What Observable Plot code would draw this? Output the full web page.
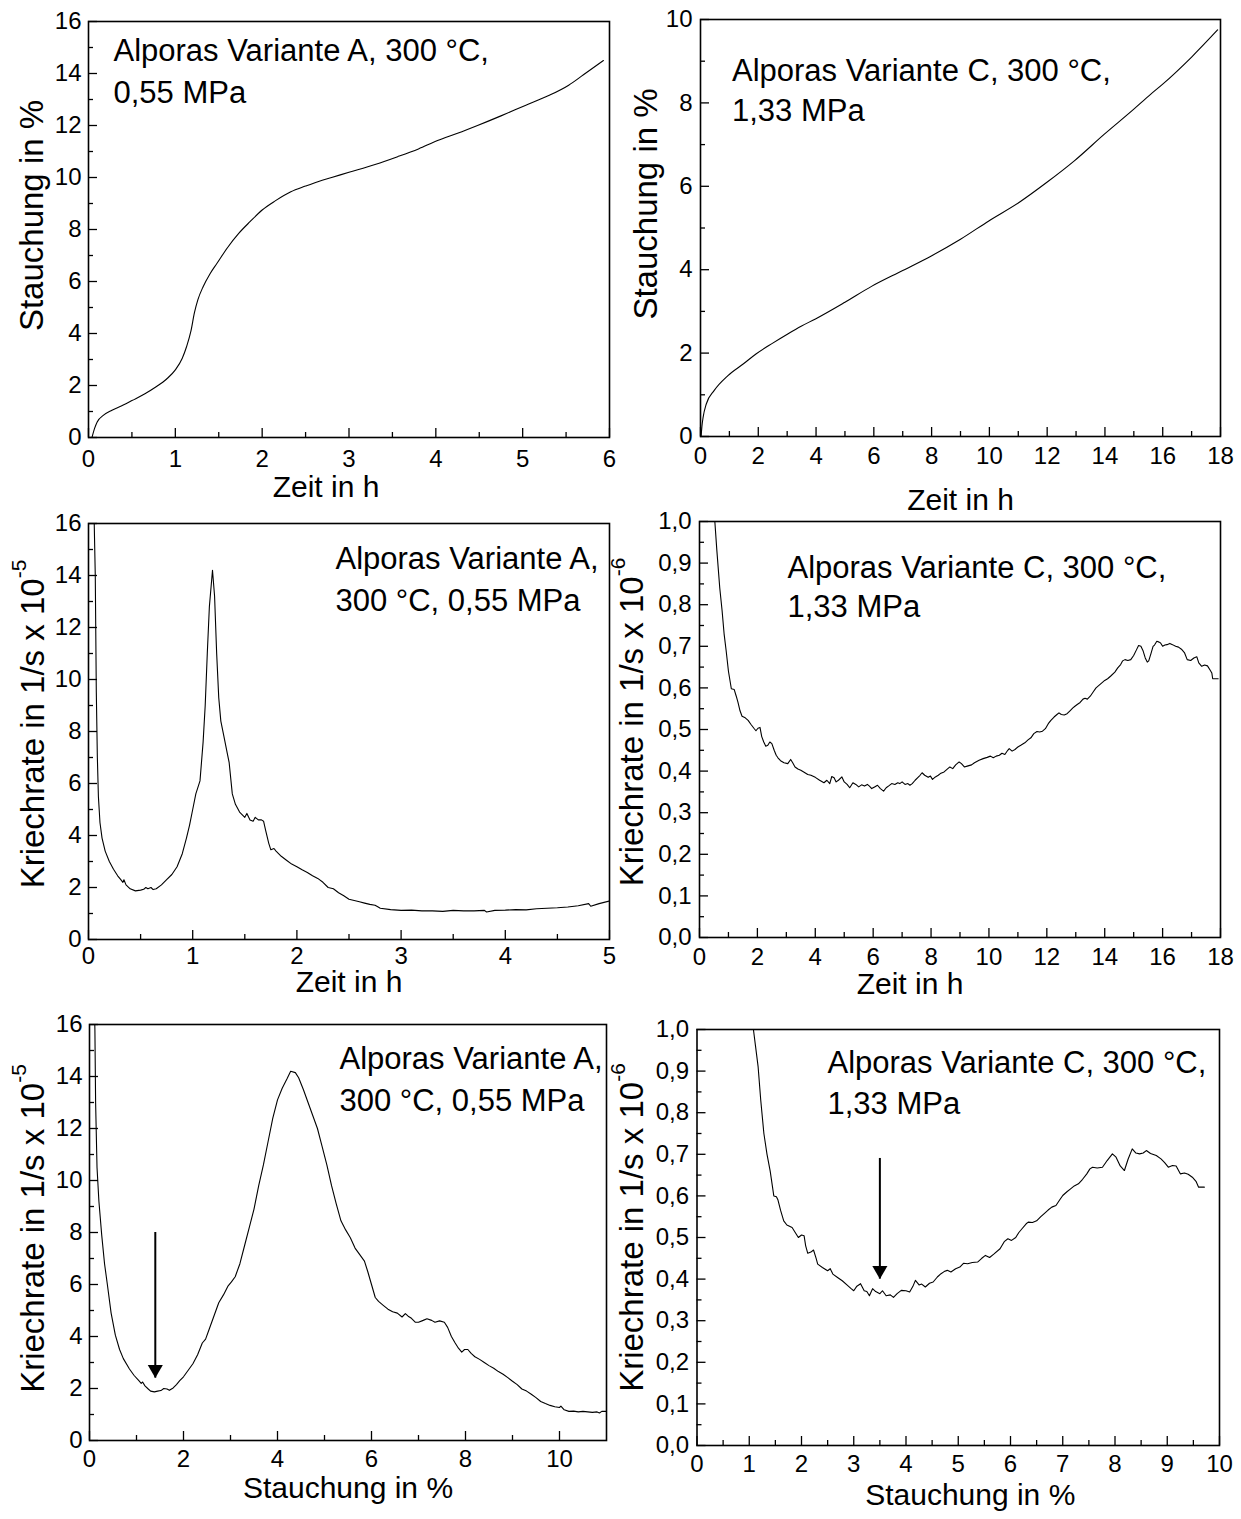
<!DOCTYPE html>
<html><head><meta charset="utf-8">
<script src="https://cdn.jsdelivr.net/npm/d3@7"></script>
<script src="https://cdn.jsdelivr.net/npm/@observablehq/plot@0.6"></script>
<style>
body{margin:0;background:#fff;}
#wrap{position:relative;width:1241px;height:1519px;background:#fff;}
.panel{position:absolute;}
</style></head><body><div id="wrap"></div>
<script>
// ---------- DATA ----------
// Stauchung (%) vs Zeit (h), Variante A
const stauchungA = [[0.04,0],[0.07,0.35],[0.1,0.6],[0.17,0.85],[0.27,1.05],[0.4,1.25],[0.5,1.42],[0.65,1.68],[0.77,1.93],[0.9,2.25],[1.0,2.6],[1.08,3.05],[1.13,3.5],[1.18,4.1],[1.22,4.8],[1.26,5.3],[1.32,5.8],[1.4,6.3],[1.48,6.7],[1.6,7.3],[1.73,7.85],[1.86,8.3],[2.0,8.75],[2.15,9.1],[2.33,9.45],[2.5,9.67],[2.65,9.85],[2.8,10.0],[3.0,10.2],[3.3,10.5],[3.56,10.8],[3.8,11.1],[4.02,11.42],[4.25,11.7],[4.48,12.0],[4.75,12.37],[5.03,12.77],[5.3,13.15],[5.53,13.55],[5.7,13.95],[5.93,14.5]];
// Stauchung (%) vs Zeit (h), Variante C
const stauchungC = [[0.02,0],[0.05,0.25],[0.09,0.46],[0.2,0.78],[0.47,1.1],[0.95,1.46],[1.5,1.75],[1.92,1.98],[2.5,2.24],[3.02,2.46],[3.5,2.65],[3.98,2.82],[5,3.22],[5.92,3.6],[7,3.98],[7.99,4.33],[9,4.73],[9.98,5.17],[11,5.6],[11.98,6.09],[12.94,6.61],[13.98,7.25],[15,7.85],[15.57,8.2],[16,8.45],[17,9.1],[17.9,9.75]];
// Kriechrate (1e-5 1/s) vs Zeit (h), Variante A
const rateA_zeit = [[0.05,17],[0.065,14],[0.075,9.5],[0.085,7],[0.095,5.5],[0.11,4.5],[0.13,3.9],[0.16,3.4],[0.2,3.0],[0.24,2.7],[0.28,2.45],[0.31,2.3],[0.33,2.2],[0.34,2.3],[0.36,2.1],[0.4,1.95],[0.45,1.87],[0.5,1.9],[0.53,1.93],[0.55,2.0],[0.57,1.95],[0.6,2.0],[0.62,1.92],[0.65,1.95],[0.7,2.1],[0.75,2.3],[0.8,2.5],[0.85,2.8],[0.9,3.3],[0.94,3.9],[0.97,4.4],[1.0,5.0],[1.03,5.6],[1.07,6.1],[1.1,7.6],[1.12,9.0],[1.14,11],[1.16,12.8],[1.19,14.2],[1.21,13.2],[1.23,11.0],[1.25,9.3],[1.27,8.4],[1.3,7.8],[1.33,7.2],[1.35,6.8],[1.38,5.6],[1.41,5.2],[1.45,4.9],[1.5,4.7],[1.52,4.85],[1.55,4.6],[1.58,4.55],[1.6,4.7],[1.63,4.6],[1.66,4.6],[1.68,4.55],[1.7,4.2],[1.73,3.7],[1.75,3.45],[1.78,3.5],[1.8,3.4],[1.85,3.2],[1.9,3.05],[1.95,2.9],[2.0,2.8],[2.05,2.68],[2.1,2.58],[2.15,2.45],[2.2,2.35],[2.25,2.2],[2.3,2.0],[2.35,1.95],[2.4,1.8],[2.45,1.68],[2.5,1.55],[2.55,1.5],[2.6,1.45],[2.65,1.4],[2.7,1.35],[2.75,1.32],[2.78,1.25],[2.8,1.2],[2.9,1.15],[3.0,1.12],[3.1,1.13],[3.2,1.1],[3.3,1.1],[3.4,1.08],[3.5,1.12],[3.6,1.1],[3.7,1.1],[3.8,1.12],[3.82,1.06],[3.9,1.12],[4.0,1.13],[4.1,1.15],[4.2,1.14],[4.3,1.18],[4.4,1.2],[4.5,1.22],[4.6,1.25],[4.7,1.3],[4.8,1.38],[4.82,1.28],[4.9,1.38],[5.0,1.48]];
// Kriechrate (1e-6 1/s) vs Zeit (h), Variante C
const rateC_zeit = [[0.45,1.05],[0.53,1.0],[0.6,0.93],[0.7,0.84],[0.78,0.786],[0.85,0.73],[0.92,0.69],[1.0,0.64],[1.1,0.598],[1.2,0.596],[1.27,0.58],[1.33,0.565],[1.4,0.545],[1.47,0.532],[1.58,0.528],[1.68,0.522],[1.78,0.512],[1.88,0.503],[1.95,0.497],[2.02,0.503],[2.09,0.505],[2.15,0.483],[2.22,0.47],[2.29,0.46],[2.36,0.462],[2.43,0.47],[2.5,0.466],[2.58,0.45],[2.65,0.438],[2.71,0.432],[2.8,0.425],[2.92,0.42],[3.05,0.418],[3.15,0.428],[3.22,0.42],[3.3,0.41],[3.4,0.405],[3.5,0.402],[3.6,0.398],[3.74,0.392],[3.85,0.39],[4.0,0.385],[4.15,0.378],[4.3,0.372],[4.4,0.378],[4.5,0.37],[4.57,0.387],[4.65,0.384],[4.72,0.374],[4.8,0.378],[4.92,0.386],[5.0,0.374],[5.1,0.368],[5.19,0.36],[5.3,0.372],[5.4,0.368],[5.5,0.362],[5.6,0.367],[5.7,0.364],[5.8,0.368],[5.87,0.364],[5.95,0.358],[6.05,0.362],[6.15,0.366],[6.25,0.358],[6.36,0.352],[6.45,0.36],[6.55,0.365],[6.64,0.37],[6.75,0.368],[6.85,0.372],[6.92,0.37],[7.0,0.374],[7.1,0.368],[7.2,0.37],[7.27,0.366],[7.35,0.37],[7.45,0.378],[7.55,0.385],[7.62,0.39],[7.69,0.396],[7.78,0.39],[7.9,0.385],[7.98,0.388],[8.05,0.38],[8.15,0.386],[8.25,0.39],[8.32,0.394],[8.45,0.398],[8.55,0.404],[8.65,0.41],[8.75,0.406],[8.85,0.415],[8.97,0.422],[9.05,0.418],[9.15,0.41],[9.25,0.412],[9.4,0.415],[9.5,0.42],[9.66,0.426],[9.8,0.43],[9.94,0.433],[10.05,0.436],[10.15,0.432],[10.25,0.436],[10.36,0.438],[10.45,0.443],[10.55,0.44],[10.65,0.45],[10.7,0.454],[10.8,0.448],[10.9,0.452],[11.0,0.458],[11.1,0.462],[11.24,0.468],[11.35,0.475],[11.45,0.48],[11.55,0.49],[11.66,0.495],[11.75,0.494],[11.85,0.496],[11.95,0.502],[12.05,0.514],[12.14,0.522],[12.25,0.53],[12.35,0.536],[12.42,0.54],[12.5,0.536],[12.6,0.535],[12.7,0.538],[12.8,0.545],[12.9,0.552],[12.97,0.556],[13.05,0.56],[13.15,0.565],[13.25,0.573],[13.32,0.575],[13.4,0.573],[13.5,0.58],[13.6,0.59],[13.7,0.6],[13.8,0.606],[13.9,0.612],[14.0,0.618],[14.1,0.622],[14.2,0.628],[14.35,0.638],[14.45,0.648],[14.55,0.656],[14.62,0.665],[14.7,0.668],[14.8,0.666],[14.9,0.668],[15.0,0.678],[15.1,0.692],[15.17,0.702],[15.25,0.7],[15.32,0.69],[15.4,0.672],[15.47,0.662],[15.52,0.665],[15.6,0.683],[15.67,0.7],[15.72,0.703],[15.8,0.712],[15.88,0.71],[15.93,0.708],[16.0,0.7],[16.08,0.703],[16.15,0.704],[16.25,0.707],[16.34,0.704],[16.45,0.7],[16.55,0.698],[16.65,0.693],[16.76,0.684],[16.85,0.668],[16.97,0.666],[17.08,0.672],[17.18,0.675],[17.25,0.66],[17.35,0.652],[17.45,0.655],[17.55,0.653],[17.65,0.642],[17.7,0.636],[17.73,0.622],[17.92,0.622]];
// Kriechrate (1e-5 1/s) vs Stauchung (%), Variante A
const rateA_stauchung = [[0.1,17],[0.115,15.8],[0.13,13],[0.16,10.5],[0.2,9.2],[0.26,7.9],[0.32,6.8],[0.38,6.0],[0.46,4.9],[0.55,4.05],[0.64,3.5],[0.72,3.15],[0.85,2.75],[0.95,2.5],[1.05,2.3],[1.1,2.2],[1.13,2.25],[1.18,2.1],[1.25,1.98],[1.3,1.9],[1.38,1.87],[1.45,1.9],[1.52,1.92],[1.58,2.0],[1.65,1.98],[1.7,1.93],[1.78,2.02],[1.85,2.15],[1.92,2.3],[2.0,2.45],[2.1,2.7],[2.2,2.95],[2.3,3.3],[2.4,3.75],[2.47,3.9],[2.55,4.3],[2.65,4.8],[2.75,5.3],[2.85,5.6],[2.95,5.95],[3.02,6.1],[3.1,6.3],[3.2,6.8],[3.3,7.5],[3.4,8.2],[3.5,8.9],[3.6,9.8],[3.7,10.6],[3.8,11.5],[3.9,12.4],[4.0,13.1],[4.1,13.55],[4.2,13.9],[4.28,14.2],[4.38,14.15],[4.45,13.95],[4.55,13.5],[4.65,13.0],[4.75,12.5],[4.85,12.0],[4.95,11.3],[5.05,10.6],[5.15,9.8],[5.25,9.1],[5.35,8.45],[5.45,8.1],[5.55,7.8],[5.65,7.4],[5.75,7.15],[5.85,6.9],[5.92,6.5],[6.0,6.0],[6.08,5.5],[6.15,5.35],[6.25,5.2],[6.35,5.05],[6.45,4.95],[6.55,4.9],[6.65,4.75],[6.72,4.88],[6.78,4.78],[6.85,4.7],[6.93,4.55],[7.0,4.55],[7.1,4.62],[7.18,4.68],[7.28,4.62],[7.35,4.55],[7.45,4.6],[7.55,4.55],[7.62,4.35],[7.7,4.0],[7.78,3.75],[7.85,3.55],[7.92,3.4],[7.98,3.5],[8.05,3.5],[8.12,3.35],[8.2,3.22],[8.3,3.12],[8.4,3.0],[8.5,2.88],[8.6,2.78],[8.7,2.65],[8.8,2.55],[8.9,2.42],[9.0,2.28],[9.1,2.15],[9.2,1.98],[9.3,1.9],[9.4,1.78],[9.5,1.65],[9.6,1.5],[9.7,1.42],[9.8,1.35],[9.9,1.3],[10.0,1.27],[10.03,1.32],[10.1,1.18],[10.2,1.12],[10.3,1.13],[10.4,1.1],[10.5,1.12],[10.6,1.1],[10.7,1.08],[10.8,1.1],[10.85,1.06],[10.9,1.12],[11.0,1.12]];
// Kriechrate (1e-6 1/s) vs Stauchung (%), Variante C
const rateC_stauchung = [[1.05,1.05],[1.08,1.0],[1.12,0.96],[1.17,0.91],[1.22,0.83],[1.28,0.75],[1.34,0.7],[1.4,0.66],[1.47,0.6],[1.52,0.598],[1.55,0.59],[1.6,0.565],[1.66,0.54],[1.72,0.53],[1.82,0.524],[1.88,0.512],[1.94,0.5],[2.0,0.506],[2.05,0.504],[2.08,0.48],[2.12,0.462],[2.18,0.465],[2.23,0.47],[2.28,0.45],[2.31,0.436],[2.4,0.428],[2.5,0.42],[2.55,0.425],[2.6,0.412],[2.69,0.404],[2.78,0.396],[2.88,0.385],[2.95,0.377],[3.0,0.372],[3.06,0.383],[3.13,0.389],[3.2,0.372],[3.25,0.37],[3.3,0.36],[3.36,0.377],[3.42,0.37],[3.5,0.365],[3.55,0.372],[3.62,0.36],[3.7,0.362],[3.76,0.356],[3.83,0.365],[3.91,0.373],[4.0,0.372],[4.07,0.369],[4.13,0.382],[4.18,0.397],[4.25,0.386],[4.3,0.388],[4.37,0.381],[4.45,0.39],[4.52,0.393],[4.6,0.405],[4.67,0.413],[4.73,0.418],[4.79,0.421],[4.86,0.417],[4.95,0.425],[5.03,0.429],[5.1,0.438],[5.18,0.437],[5.27,0.44],[5.37,0.441],[5.45,0.45],[5.52,0.457],[5.6,0.452],[5.68,0.46],[5.8,0.473],[5.88,0.49],[5.95,0.497],[6.02,0.493],[6.1,0.5],[6.16,0.512],[6.22,0.521],[6.3,0.533],[6.34,0.537],[6.42,0.536],[6.5,0.54],[6.58,0.55],[6.64,0.557],[6.72,0.566],[6.79,0.573],[6.87,0.577],[6.94,0.59],[7.0,0.601],[7.08,0.61],[7.15,0.617],[7.22,0.624],[7.3,0.629],[7.38,0.64],[7.46,0.653],[7.52,0.665],[7.57,0.669],[7.66,0.667],[7.76,0.669],[7.85,0.685],[7.95,0.701],[8.02,0.693],[8.1,0.672],[8.18,0.661],[8.25,0.688],[8.33,0.713],[8.4,0.703],[8.47,0.701],[8.54,0.703],[8.6,0.709],[8.68,0.702],[8.79,0.697],[8.88,0.689],[8.95,0.68],[9.02,0.669],[9.1,0.673],[9.17,0.672],[9.25,0.653],[9.33,0.655],[9.4,0.652],[9.48,0.645],[9.55,0.635],[9.6,0.621],[9.71,0.621]];

// Arrows (x, from y1 down to y2)
const arrowA = [{x: 1.4, y1: 8.0, y2: 2.4}];
const arrowC = [{x: 3.5, y1: 0.69, y2: 0.40}];

// Ticks
const ticks0to6 = [0,1,2,3,4,5,6], minor0to6 = [0.5,1.5,2.5,3.5,4.5,5.5];
const ticks0to5 = [0,1,2,3,4,5], minor0to5 = [0.5,1.5,2.5,3.5,4.5];
const ticks0to18 = [0,2,4,6,8,10,12,14,16,18], minor0to18 = [1,3,5,7,9,11,13,15,17];
const ticks0to10s2 = [0,2,4,6,8,10], minor0to10s2 = [1,3,5,7,9];
const ticks0to10 = [0,1,2,3,4,5,6,7,8,9,10], minor0to10 = [0.5,1.5,2.5,3.5,4.5,5.5,6.5,7.5,8.5,9.5];
const ticks0to16 = [0,2,4,6,8,10,12,14,16], minor0to16 = [1,3,5,7,9,11,13,15];
const ticksUnit = [0,0.1,0.2,0.3,0.4,0.5,0.6,0.7,0.8,0.9,1.0], minorUnit = [0.05,0.15,0.25,0.35,0.45,0.55,0.65,0.75,0.85,0.95];
const ticks0to11 = [0,2,4,6,8,10], minor0to11 = [1,3,5,7,9];

// Texts
const noteA1 = "Alporas Variante A, 300 °C,\n0,55 MPa";
const noteA2 = "Alporas Variante A,\n300 °C, 0,55 MPa";
const noteC = "Alporas Variante C, 300 °C,\n1,33 MPa";
const labZeit = "Zeit in h", labStauchung = "Stauchung in %", labRate = "Kriechrate in 1/s x 10";

const comma = d => d.toFixed(1).replace(".", ",");
const FONT = "'Liberation Sans', Arial, Helvetica, sans-serif";

const panels = [
  {left:0, top:0, w:620, h:510, ml:88, mr:11, mt:21, mb:73, xd:[0,6], yd:[0,16], xM:ticks0to6, xm:minor0to6, yM:ticks0to16, ym:minor0to16, xpad:12, ypad:7, data:stauchungA, curve:"monotone-x", xl:labZeit, xlDx:-23, xlDy:38, yl:labStauchung, ylDx:-46, ylDy:-14, note:noteA1, nDx:25, nDy:9.3, nLH:1.37},
  {left:620, top:0, w:621, h:510, ml:80, mr:21, mt:19, mb:74, xd:[0,18], yd:[0,10], xM:ticks0to18, xm:minor0to18, yM:ticks0to10s2, ym:minor0to10s2, xpad:10, ypad:8, data:stauchungC, curve:"monotone-x", xl:labZeit, xlDx:0, xlDy:52, yl:labStauchung, ylDx:-44, ylDy:-24, note:noteC, nDx:31.5, nDy:33.1, nLH:1.29},
  {left:0, top:510, w:620, h:505, ml:88, mr:11, mt:13, mb:76, xd:[0,5], yd:[0,16], xM:ticks0to5, xm:minor0to5, yM:ticks0to16, ym:minor0to16, xpad:7, ypad:7, data:rateA_zeit, curve:"linear", xl:labZeit, xlDx:0, xlDy:31, yl:labRate, sup:"-5", ylDx:-45, ylDy:-7.5, note:noteA2, nDx:247, nDy:16.3, nLH:1.345},
  {left:620, top:510, w:621, h:505, ml:79, mr:21, mt:11, mb:78, xd:[0,18], yd:[0,1], xM:ticks0to18, xm:minor0to18, yM:ticksUnit, ym:minorUnit, yfmt:comma, xpad:10, ypad:8, data:rateC_zeit, curve:"linear", xl:labZeit, xlDx:-50, xlDy:35, yl:labRate, sup:"-6", ylDx:-57, ylDy:-7.5, note:noteC, nDx:88, nDy:28.2, nLH:1.27},
  {left:0, top:1015, w:620, h:504, ml:89, mr:14, mt:9, mb:79, xd:[0,11], yd:[0,16], xM:ticks0to11, xm:minor0to11, yM:ticks0to16, ym:minor0to16, xpad:9, ypad:7, data:rateA_stauchung, curve:"linear", xl:labStauchung, xlDx:0, xlDy:36, yl:labRate, sup:"-5", ylDx:-46, ylDy:-4, note:noteA2, nDx:250, nDy:15.3, nLH:1.345, arrow:arrowA},
  {left:620, top:1015, w:621, h:504, ml:76.5, mr:22, mt:14, mb:74, xd:[0,10], yd:[0,1], xM:ticks0to10, xm:minor0to10, yM:ticksUnit, ym:minorUnit, yfmt:comma, xpad:9, ypad:8, data:rateC_stauchung, curve:"linear", xl:labStauchung, xlDx:12, xlDy:38, yl:labRate, sup:"-6", ylDx:-54, ylDy:-10, note:noteC, nDx:130.5, nDy:13.7, nLH:1.34, arrow:arrowC}
];

const wrap = document.getElementById("wrap");
for (const p of panels) {
  const iw = p.w - p.ml - p.mr, ih = p.h - p.mt - p.mb;
  const marks = [
    Plot.line(p.data, {x: d => d[0], y: d => d[1], stroke: "black", strokeWidth: 1.1, curve: p.curve, clip: true}),
    Plot.frame({stroke: "black", strokeWidth: 1.6}),
    Plot.ruleX(p.xM, {x: d => d, insetTop: ih - 9, stroke: "black", strokeWidth: 1.3}),
    Plot.ruleX(p.xm, {x: d => d, insetTop: ih - 5, stroke: "black", strokeWidth: 1.3}),
    Plot.ruleY(p.yM, {y: d => d, insetRight: iw - 9, stroke: "black", strokeWidth: 1.3}),
    Plot.ruleY(p.ym, {y: d => d, insetRight: iw - 5, stroke: "black", strokeWidth: 1.3}),
    Plot.axisX({ticks: p.xM, tickSize: 0, tickPadding: p.xpad, label: null, fontSize: 24, fill: "black", tickFormat: d => String(d)}),
    Plot.axisY({ticks: p.yM, tickSize: 0, tickPadding: p.ypad, label: null, fontSize: 24, fill: "black", tickFormat: p.yfmt || (d => String(d))}),
    Plot.text([p.xl], {text: d => d, frameAnchor: "bottom", textAnchor: "middle", lineAnchor: "top", dx: p.xlDx, dy: p.xlDy, fontSize: 30, fill: "black"}),
    Plot.text([p.yl], {text: d => d, frameAnchor: "left", rotate: -90, textAnchor: "middle", lineAnchor: "bottom", dx: p.ylDx, dy: p.ylDy, fontSize: 33, fill: "black"}),
    Plot.text([p.note], {text: d => d, frameAnchor: "top-left", textAnchor: "start", lineAnchor: "top", lineHeight: p.nLH, dx: p.nDx, dy: p.nDy, fontSize: 31, fill: "black"})
  ];
  if (p.arrow) {
    marks.push(Plot.ruleX(p.arrow, {x: "x", y1: "y1", y2: "y2", stroke: "black", strokeWidth: 2}));
    marks.push(Plot.dot(p.arrow, {x: "x", y: "y2", symbol: "triangle", rotate: 180, r: 5.6, fill: "black", stroke: "none", dy: -8.7}));
  }
  const chart = Plot.plot({
    width: p.w, height: p.h,
    marginLeft: p.ml, marginRight: p.mr, marginTop: p.mt, marginBottom: p.mb,
    x: {domain: p.xd}, y: {domain: p.yd},
    style: {fontFamily: FONT, fontSize: "24px", color: "black", background: "white", overflow: "visible"},
    marks
  });
  if (p.sup) {
    const t = [...chart.querySelectorAll("text")].find(el => el.textContent === p.yl);
    if (t) {
      const ts = document.createElementNS("http://www.w3.org/2000/svg", "tspan");
      ts.setAttribute("dy", "-18");
      ts.setAttribute("font-size", "21");
      ts.textContent = p.sup;
      t.appendChild(ts);
    }
  }
  const div = document.createElement("div");
  div.className = "panel";
  div.style.left = p.left + "px"; div.style.top = p.top + "px";
  div.style.width = p.w + "px"; div.style.height = p.h + "px";
  div.appendChild(chart);
  wrap.appendChild(div);
}
</script></body></html>
